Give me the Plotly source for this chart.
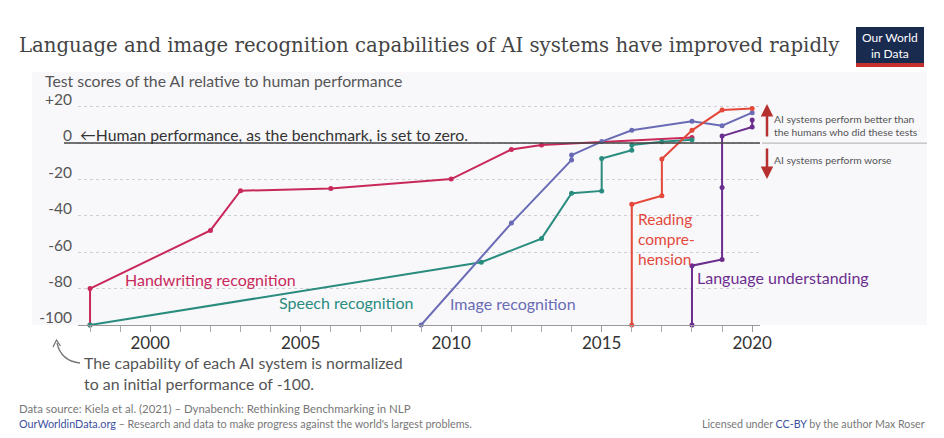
import plotly.graph_objects as go

# --- data ---
hw_year = [1998, 1998, 2002, 2003, 2006, 2010, 2012, 2013, 2018]
hw_score = [-100, -80, -48, -26.2, -25, -19.8, -3.5, -1.1, 3]

speech_year = [1998, 2011, 2013, 2014, 2015, 2015, 2016, 2016, 2017, 2018]
speech_score = [-100, -65.5, -52.5, -27.6, -26.3, -8.5, -3.9, -1.1, 0.7, 1.8]

image_year = [2009, 2012, 2014, 2014, 2015, 2016, 2018, 2019, 2020]
image_score = [-100, -44, -9.3, -6.6, 0.8, 7, 12, 9.5, 16.7]

reading_year = [2016, 2016, 2017, 2017, 2018, 2019, 2020]
reading_score = [-100, -33.7, -29, -8.8, 7, 18.1, 19]

lang_year = [2018, 2018, 2019, 2019, 2019, 2020, 2020]
lang_score = [-100, -67.4, -64, -24.5, 3.8, 8.8, 12.6]

y_ticks = [-100, -80, -60, -40, -20, 0, 20]
y_ticktext = ["-100", "-80", "-60", "-40", "-20", "0", "+20"]
x_ticks = [2000, 2005, 2010, 2015, 2020]

series = [
    ("Handwriting recognition", hw_year, hw_score, "#c8285a"),
    ("Speech recognition", speech_year, speech_score, "#2a8c7e"),
    ("Image recognition", image_year, image_score, "#6a6bb5"),
    ("Reading comprehension", reading_year, reading_score, "#e3483a"),
    ("Language understanding", lang_year, lang_score, "#6b2d8e"),
]

# the page puts the figure 8px in from the top-left corner
OFF = 8
W, H = 944 - OFF, 438 - OFF
L, R, T, B = 78, 760, 103, 325   # plot area, in window pixels


def px(x):
    return (x - L) / (R - L)


def py(y):
    return (B - y) / (B - T)


FONT = "Lato, 'Open Sans', sans-serif"
GREY = "#555555"

fig = go.Figure()
for name, xs, ys, col in series:
    fig.add_trace(go.Scatter(
        x=xs, y=ys, name=name, mode="lines+markers",
        line=dict(color=col, width=2),
        marker=dict(color=col, size=5),
        cliponaxis=False, hoverinfo="x+y+name",
    ))

shapes = [
    # light plot background
    dict(type="rect", xref="paper", yref="paper", x0=px(32), x1=px(927),
         y0=py(325), y1=py(72), fillcolor="#f8f8fb", line_width=0, layer="below"),
    # human benchmark line
    dict(type="line", xref="paper", yref="y", x0=px(64), x1=1, y0=0, y1=0,
         line=dict(color="#444", width=1.5)),
    dict(type="line", xref="paper", yref="y", x0=px(762), x1=px(927), y0=0, y1=0,
         line=dict(color="#bbbbbb", width=1.2)),
    # Our World in Data logo
    dict(type="rect", xref="paper", yref="paper", x0=px(856), x1=px(924),
         y0=py(63), y1=py(27), fillcolor="#1a2b50", line_width=0),
    dict(type="rect", xref="paper", yref="paper", x0=px(856), x1=px(924),
         y0=py(67), y1=py(63), fillcolor="#c4302b", line_width=0),
    # curved pointer to -100
    dict(type="path", xref="paper", yref="paper",
         path=f"M {px(80)},{py(363)} Q {px(61)},{py(361)} {px(57)},{py(343)}",
         line=dict(color="#777", width=1.3)),
    dict(type="path", xref="paper", yref="paper",
         path=f"M {px(53)},{py(347)} L {px(56.5)},{py(340)} L {px(60.5)},{py(346)}",
         line=dict(color="#777", width=1.3)),
]


def note(text, x, y, size=15, color=GREY, xanchor="left", family=FONT, ref="paper"):
    a = dict(text=text, xanchor=xanchor, yanchor="middle", showarrow=False,
             align=xanchor if xanchor != "center" else "center",
             font=dict(family=family, size=size, color=color))
    if ref == "paper":
        a.update(x=px(x), y=py(y), xref="paper", yref="paper")
    else:
        a.update(x=x, y=y, xref="x", yref="y")
    return a


annotations = [
    note("Language and image recognition capabilities of AI systems have improved rapidly",
         17, 45, size=19.7, color="#444", family="'DejaVu Serif', serif"),
    note("Our World<br>in Data", 890, 45.5, size=12, color="white", xanchor="center"),
    note("Test scores of the AI relative to human performance", 43, 81, size=15.8),
    note("←Human performance, as the benchmark, is set to zero.", 78, 134, size=15.8, color="#333"),
    note("AI systems perform better than<br>the humans who did these tests", 772, 125.5, size=10.3),
    note("AI systems perform worse", 772, 159.5, size=10.3),
    note("The capability of each AI system is normalized<br>to an initial performance of -100.",
         82, 373, size=15.9),
    note("Data source: Kiela et al. (2021) – Dynabench: Rethinking Benchmarking in NLP",
         17, 408, size=11.4, color="#777"),
    note("<span style='color:#3d4fa0'>OurWorldinData.org</span> – Research and data to make "
         "progress against the world's largest problems.", 17, 423.5, size=10.8, color="#777"),
    note("Licensed under <span style='color:#3d4fa0'>CC-BY</span> by the author Max Roser",
         927, 423.5, size=10.7, color="#777", xanchor="right"),
    # series labels
    note("Handwriting recognition", 1999.1, -74.9, size=16, color="#c8285a", ref="data"),
    note("Speech recognition", 2004.2, -87.5, size=16, color="#2a8c7e", ref="data"),
    note("Image recognition", 2009.9, -88, size=16, color="#6a6bb5", ref="data"),
    note("Reading<br>compre-<br>hension", 2016.15, -52.7, size=15.5, color="#e3483a", ref="data"),
    note("Language understanding", 2018.1, -74, size=16, color="#6b2d8e", ref="data"),
    # better / worse arrows
    dict(x=px(767), y=py(104), xref="paper", yref="paper", ax=0, ay=34, text="",
         showarrow=True, arrowhead=2, arrowsize=1, arrowwidth=2.5, arrowcolor="#b5302e"),
    dict(x=px(767), y=py(179), xref="paper", yref="paper", ax=0, ay=-32, text="",
         showarrow=True, arrowhead=2, arrowsize=1, arrowwidth=2.5, arrowcolor="#b5302e"),
]

fig.update_layout(
    width=W, height=H,
    margin=dict(l=L - OFF, r=(W + OFF) - R, t=T - OFF, b=(H + OFF) - B, pad=0),
    paper_bgcolor="white", plot_bgcolor="rgba(0,0,0,0)",
    showlegend=False,
    shapes=shapes, annotations=annotations,
    font=dict(family=FONT, color="#333"),
    xaxis=dict(
        range=[1997.6, 2020.26], tickmode="array", tickvals=x_ticks,
        showgrid=False, zeroline=False, showline=True, linecolor="#999", linewidth=1,
        ticks="outside", ticklen=6, tickcolor="#999",
        minor=dict(tick0=1998, dtick=1, ticks="outside", ticklen=6, tickcolor="#aaa"),
        tickfont=dict(size=17, color="#333"), ticklabelstandoff=-3,
    ),
    yaxis=dict(
        range=[-100, 22], tickmode="array", tickvals=y_ticks, ticktext=y_ticktext,
        showgrid=True, gridcolor="#cfcfd6", griddash="dot", gridwidth=1,
        zeroline=False, showline=False, ticks="",
        tickfont=dict(size=15.5, color=GREY), ticklabelshift=-7, ticklabelstandoff=5,
    ),
)

fig.write_html("out.html")
